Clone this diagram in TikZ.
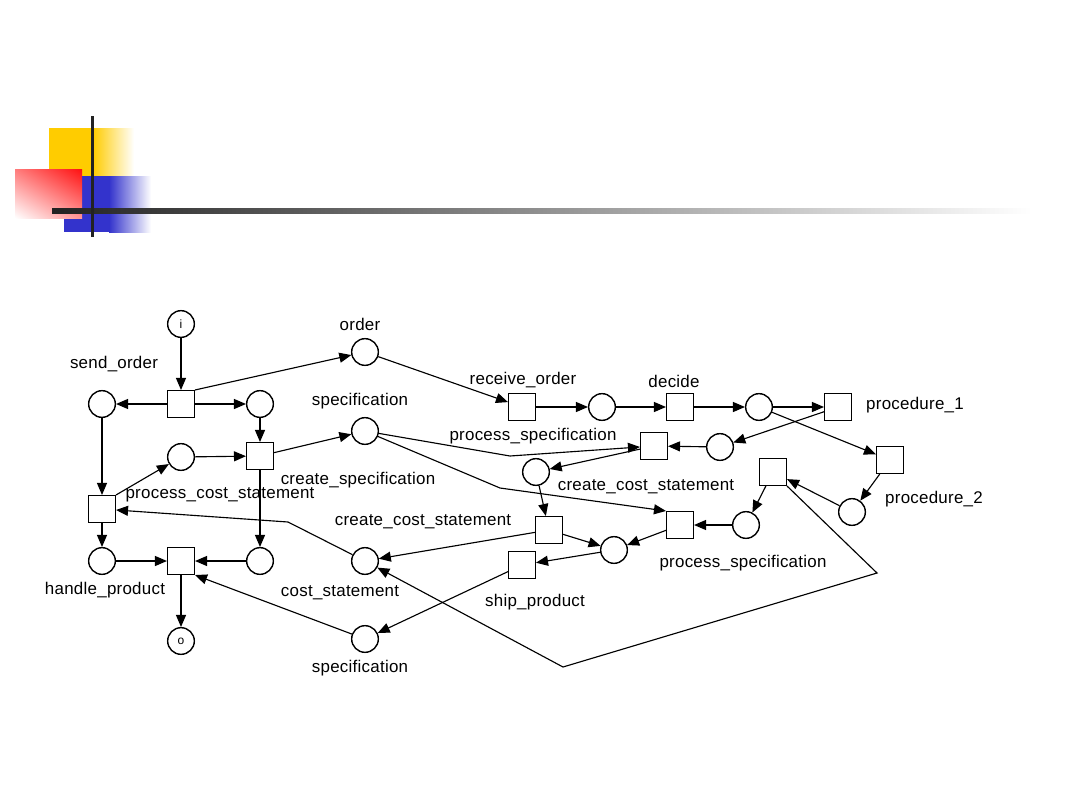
\documentclass[tikz,border=0pt]{standalone}
\usepackage{fontspec}
\setmainfont{Liberation Sans}
\newfontfamily\lblfont[LetterSpace=1.5]{Liberation Sans}
\newcommand\lblf{\lblfont\fontsize{12.7}{14}\selectfont}
\newcommand\smallf{\lblfont\fontsize{9}{10}\selectfont}
\usetikzlibrary{arrows.meta,shadings}
\definecolor{hdrYellow}{RGB}{255,204,0}
\definecolor{hdrBlue}{RGB}{51,51,204}
\definecolor{hdrRed}{RGB}{255,16,16}
\definecolor{hdrDark}{RGB}{34,34,34}
\begin{document}
\begin{tikzpicture}[x=0.75pt,y=-0.75pt,
  place/.style={circle,draw,line width=1.05pt,minimum size=20pt,inner sep=0pt,font=\smallf},
  trans/.style={rectangle,draw,line width=1.05pt,minimum size=20pt,inner sep=0pt},
  lbl/.style={font=\lblf,inner sep=0pt},
  arc/.style={line width=0.85pt,-{Triangle[length=9pt,width=7.5pt]}}]
\useasboundingbox[fill=white] (0,0) rectangle (1080,810);

% header decoration
\fill[hdrYellow] (49,128) rectangle (93,180);
\shade[left color=hdrYellow,right color=white] (93,128) rectangle (134,180);
\fill[hdrBlue] (64,176) rectangle (109,232);
\shade[left color=hdrBlue,right color=white] (109,176) rectangle (151,232);
\shade[upper left=hdrRed!55, upper right=hdrRed, lower left=white, lower right=hdrRed!45] (15,169) rectangle (82,218);
\shade[left color=hdrDark,right color=white] (52,208) rectangle (1032,213);
\fill[hdrDark] (90.5,116) rectangle (93.5,237);

% places and transitions
\node[place] (pI) at (181,324) {i};
\node[trans] (tSend) at (181,404) {};
\node[place] (pL) at (102,404) {};
\node[place] (pR) at (260,404) {};
\node[place] (pOrder) at (365,352) {};
\node[place] (pPcs) at (181,457) {};
\node[trans] (tCs) at (260,456) {};
\node[place] (pSpec) at (365,431) {};
\node[trans] (tPcs) at (102,509) {};
\node[place] (pHl) at (102,561) {};
\node[trans] (tHp) at (181,561) {};
\node[place] (pHr) at (260,561) {};
\node[place] (pO) at (181,641) {o};
\node[place] (pCost) at (365,561) {};
\node[place] (pSpec2) at (365,639) {};
\node[trans] (tRecv) at (522,407) {};
\node[place] (pA) at (602,407) {};
\node[trans] (tDecide) at (680,407) {};
\node[place] (pB) at (759,407) {};
\node[trans] (tProc1) at (838,407) {};
\node[trans] (tProc2) at (890,460) {};
\node[place] (pC) at (852,512) {};
\node[trans] (tUnl) at (773,472) {};
\node[place] (pD) at (746,525) {};
\node[trans] (tPsL) at (680,525) {};
\node[place] (pE) at (720,447) {};
\node[trans] (tPsU) at (654,446) {};
\node[place] (pF) at (536,472) {};
\node[trans] (tCcs) at (549,530) {};
\node[place] (pG) at (614,550) {};
\node[trans] (tShip) at (522,565) {};

% bend points
\coordinate (k1) at (510,456);
\coordinate (k2) at (500,488);
\coordinate (k3) at (288,522);
\coordinate (k4) at (877,573);
\coordinate (k5) at (563,667);

% labels
\node[lbl] (lSend) at (114,364) {send\_order};
\node[lbl] (lOrder) at (360,324) {order};
\node[lbl] (lSpec) at (360,401) {specification};
\node[lbl] (lRecv) at (523,380) {receive\_order};
\node[lbl] (lDecide) at (674,381) {decide};
\node[lbl] (lProc1) at (915,405) {procedure\_1};
\node[lbl] (lPsU) at (533,436) {process\_specification};
\node[lbl] (lCcsR) at (646,487) {create\_cost\_statement};
\node[lbl] (lCs) at (358,480) {create\_specification};
\node[lbl] (lPcs) at (220,495) {process\_cost\_statement};
\node[lbl] (lProc2) at (934,499) {procedure\_2};
\node[lbl] (lCcsL) at (423,522) {create\_cost\_statement};
\node[lbl] (lPsL) at (743,563) {process\_specification};
\node[lbl] (lHp) at (105,590) {handle\_product};
\node[lbl] (lCost) at (340,593) {cost\_statement};
\node[lbl] (lShip) at (535,602) {ship\_product};
\node[lbl] (lSpec2) at (360,668) {specification};

% arcs
\draw[arc] (pI) -- (tSend);
\draw[arc] (tSend) -- (pL);
\draw[arc] (tSend) -- (pR);
\draw[arc] (tSend.north east) -- (pOrder);
\draw[arc] (pL) -- (tPcs);
\draw[arc] (pR) -- (tCs);
\draw[arc] (pPcs) -- (tCs);
\draw[arc] (tPcs.north east) -- (pPcs);
\draw[arc] (tCs) -- (pSpec);
\draw[arc] (tCs) -- (pHr);
\draw[arc] (tPcs) -- (pHl);
\draw[arc] (pHl) -- (tHp);
\draw[arc] (pHr) -- (tHp);
\draw[arc] (tHp) -- (pO);
\draw[arc] (pSpec2) -- (tHp.south east);
\draw[arc] (pCost) -- (k3) -- (tPcs);
\draw[arc] (pOrder) -- (tRecv);
\draw[arc] (tRecv) -- (pA);
\draw[arc] (pA) -- (tDecide);
\draw[arc] (tDecide) -- (pB);
\draw[arc] (pB) -- (tProc1);
\draw[arc] (pB) -- (tProc2);
\draw[arc] (tProc1) -- (pE);
\draw[arc] (pE) -- (tPsU);
\draw[arc] (pSpec) -- (k1) -- (tPsU);
\draw[arc] (pSpec) -- (k2) -- (tPsL.north west);
\draw[arc] (tPsU) -- (pF);
\draw[arc] (pF) -- (tCcs);
\draw[arc] (tCcs) -- (pG);
\draw[arc] (tPsL) -- (pG);
\draw[arc] (pG) -- (tShip);
\draw[arc] (tCcs) -- (pCost);
\draw[arc] (tShip) -- (pSpec2);
\draw[arc] (tProc2) -- (pC);
\draw[arc] (pC) -- (tUnl);
\draw[arc] (tUnl) -- (pD);
\draw[arc] (pD) -- (tPsL);
\draw[arc] (tUnl.south east) -- (k4) -- (k5) -- (pCost);
\end{tikzpicture}
\end{document}
